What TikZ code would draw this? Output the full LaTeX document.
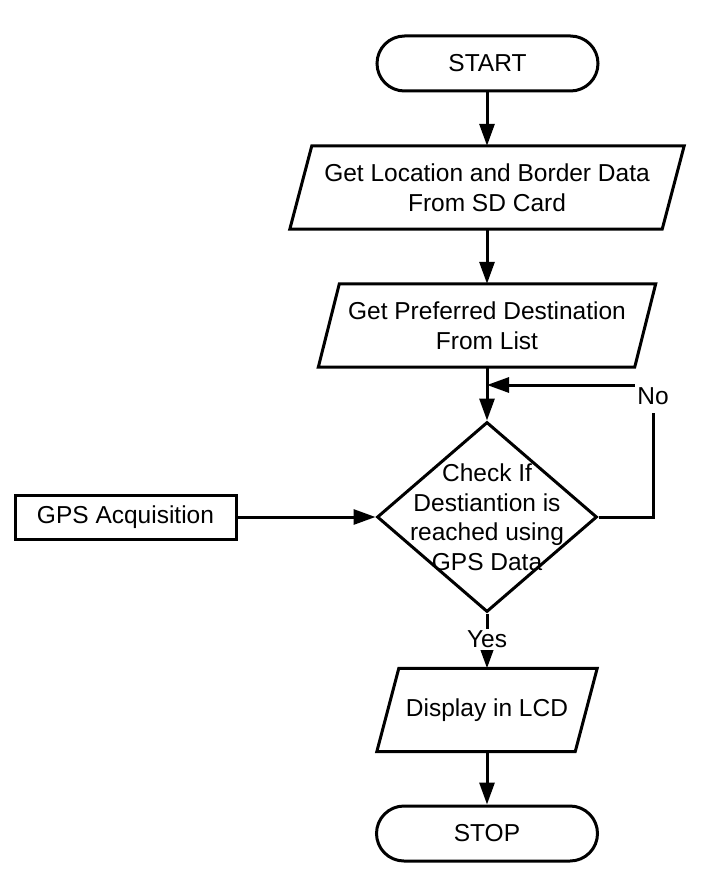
\documentclass[tikz,border=0pt]{standalone}
\usepackage{fontspec}
\setmainfont{Liberation Sans}
\usetikzlibrary{shapes.geometric,shapes.misc,arrows.meta}
\begin{document}
\begin{tikzpicture}[x=1pt,y=-1pt,
  every node/.style={font=\fontsize{24.5}{29.5}\selectfont},
  line/.style={line width=3pt},
  arr/.style={line width=3pt, -{Triangle[length=22pt,width=15pt]}},
  term/.style={draw, line width=3pt, rounded rectangle, minimum width=221pt, minimum height=55pt, inner sep=0pt},
  io/.style={align=center, minimum height=83pt, inner sep=0pt},
  procbox/.style={draw, line width=3pt, minimum width=221pt, minimum height=44pt, inner sep=0pt},
  decision/.style={draw, line width=3pt, diamond, minimum width=220pt, minimum height=190pt, inner sep=0pt},
  lbl/.style={fill=white, inner xsep=2pt, inner ysep=2pt}
]
\useasboundingbox (0,0) rectangle (722,888);

% nodes
\node[term] (start) at (487.5,63.5) {START};
\node[io, minimum width=372pt] (p1) at (487,187.5) {Get Location and Border Data\\From SD Card};
\node[io, minimum width=316pt] (p2) at (487,325.5) {Get Preferred Destination\\From List};
\node[decision, label={[align=center]center:{Check If\\Destiantion is\\reached using\\GPS Data}}] (dec) at (487,517) {};
\node[procbox] (gps) at (125.5,517) {GPS Acquisition};
\node[io, minimum width=198pt] (p3) at (487,710) {Display in LCD};
\node[term] (stop) at (487,833.5) {STOP};

% parallelogram outlines
\draw[line] ([xshift=11pt]p1.north west) -- ([xshift=11pt]p1.north east) -- ([xshift=-11pt]p1.south east) -- ([xshift=-11pt]p1.south west) -- cycle;
\draw[line] ([xshift=10.5pt]p2.north west) -- ([xshift=10.5pt]p2.north east) -- ([xshift=-10.5pt]p2.south east) -- ([xshift=-10.5pt]p2.south west) -- cycle;
\draw[line] ([xshift=11pt]p3.north west) -- ([xshift=11pt]p3.north east) -- ([xshift=-11pt]p3.south east) -- ([xshift=-11pt]p3.south west) -- cycle;

% connectors
\coordinate (nocorner) at (653,385);
\coordinate (join) at (487,385);
\draw[arr] (start.south -| p1.north) -- (p1.north);
\draw[arr] (p1.south) -- (p2.north);
\draw[arr] (p2.south) -- (dec.north);
\draw[arr] (gps.east) -- (dec.west);
\draw[arr] (dec.east) -| (nocorner) -- (join);
\node[lbl, inner ysep=8pt] at ([yshift=-11pt]nocorner) {No};
\draw[arr] (dec.south) -- node[lbl, pos=0.47] {Yes} (p3.north);
\draw[arr] (p3.south) -- (stop.north);
\end{tikzpicture}
\end{document}
